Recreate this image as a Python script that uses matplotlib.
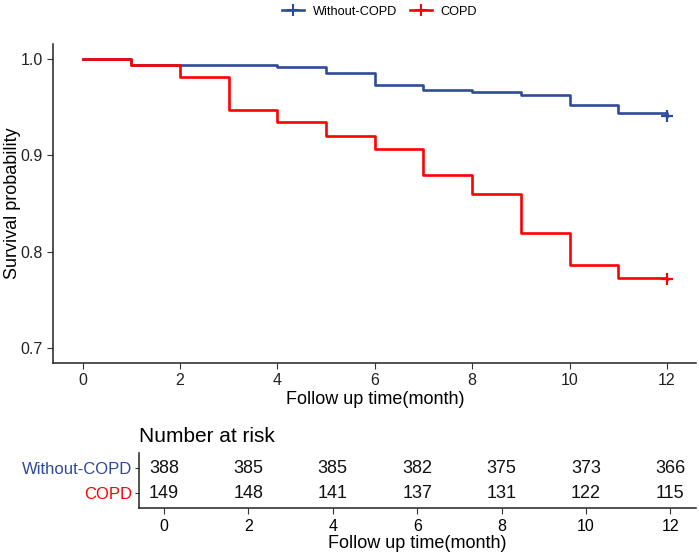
import matplotlib
matplotlib.use("Agg")
import matplotlib.pyplot as plt
from matplotlib.lines import Line2D

plt.rcParams['font.family'] = ['Liberation Sans', 'DejaVu Sans']

# tiempos y probabilidades de supervivencia
meses = [0, 1, 2, 3, 4, 5, 6, 7, 8, 9, 10, 11, 12]
sin_epoc = [1.0, 0.9935, 0.9935, 0.9935, 0.991, 0.985, 0.973, 0.967, 0.965,
            0.9626, 0.9515, 0.944, 0.941]
epoc = [1.0, 0.9935, 0.981, 0.947, 0.934, 0.920, 0.906, 0.880, 0.860,
        0.819, 0.786, 0.773, 0.772]

# tabla de numero en riesgo
meses_riesgo = [0, 2, 4, 6, 8, 10, 12]
riesgo_sin_epoc = [388, 385, 385, 382, 375, 373, 366]
riesgo_epoc = [149, 148, 141, 137, 131, 122, 115]

grupos = ['Without-COPD', 'COPD']
azul = '#2E4A9A'
rojo = '#FF0000'

fig = plt.figure(figsize=(6.99, 5.58), dpi=100)

# grafico principal
ax = fig.add_axes([0.0763, 0.3495, 0.9197, 0.5716])
ax.step(meses, sin_epoc, where='post', color=azul, lw=1.9)
ax.step(meses, epoc, where='post', color=rojo, lw=1.9)
ax.plot(meses[-1], sin_epoc[-1], marker='+', color=azul, ms=9, mew=1.6)
ax.plot(meses[-1], epoc[-1], marker='+', color=rojo, ms=9, mew=1.6)

ax.set_xlim(-0.6, 12.6)
ax.set_ylim(0.685, 1.015)
ax.set_xticks(range(0, 13, 2))
ax.set_yticks([0.7, 0.8, 0.9, 1.0])
ax.set_yticklabels(['0.7', '0.8', '0.9', '1.0'])
ax.tick_params(labelsize=11.5, length=4, color='#333333', labelcolor='#222222')
ax.spines['top'].set_visible(False)
ax.spines['right'].set_visible(False)
for s in ['left', 'bottom']:
    ax.spines[s].set_color('#222222')
    ax.spines[s].set_linewidth(1.1)
ax.set_xlabel('Follow up time(month)', fontsize=13, labelpad=2)
ax.set_ylabel('Survival probability', fontsize=13)
ax.yaxis.set_label_coords(-0.051, 0.5)

# leyenda
handles = [Line2D([0], [0], color=azul, lw=1.9, marker='+', ms=8, mew=1.5),
           Line2D([0], [0], color=rojo, lw=1.9, marker='+', ms=8, mew=1.5)]
fig.legend(handles, grupos, loc='center', bbox_to_anchor=(0.543, 0.979), ncol=2,
           frameon=False, fontsize=9.2, handlelength=1.7, handletextpad=0.7,
           columnspacing=1.0)

# tabla de riesgo
axr = fig.add_axes([0.1984, 0.0891, 0.7969, 0.0991])
for x, a, b in zip(meses_riesgo, riesgo_sin_epoc, riesgo_epoc):
    axr.text(x, 1, str(a), ha='center', va='center', fontsize=13, color='#111111')
    axr.text(x, 0, str(b), ha='center', va='center', fontsize=13, color='#111111')
axr.set_xlim(-0.6, 12.6)
axr.set_ylim(-0.6, 1.6)
axr.set_xticks(meses_riesgo)
axr.set_yticks([1, 0])
axr.set_yticklabels(grupos, fontsize=12)
axr.get_yticklabels()[0].set_color(azul)
axr.get_yticklabels()[1].set_color(rojo)
axr.tick_params(axis='x', labelsize=11.5, length=4, color='#333333')
axr.tick_params(axis='y', length=3, color='#333333', pad=2)
axr.spines['top'].set_visible(False)
axr.spines['right'].set_visible(False)
for s in ['left', 'bottom']:
    axr.spines[s].set_color('#222222')
    axr.spines[s].set_linewidth(1.1)
axr.set_xlabel('Follow up time(month)', fontsize=13, labelpad=1)
axr.set_title('Number at risk', loc='left', fontsize=15, pad=8)

fig.savefig('out.png', dpi=100)
